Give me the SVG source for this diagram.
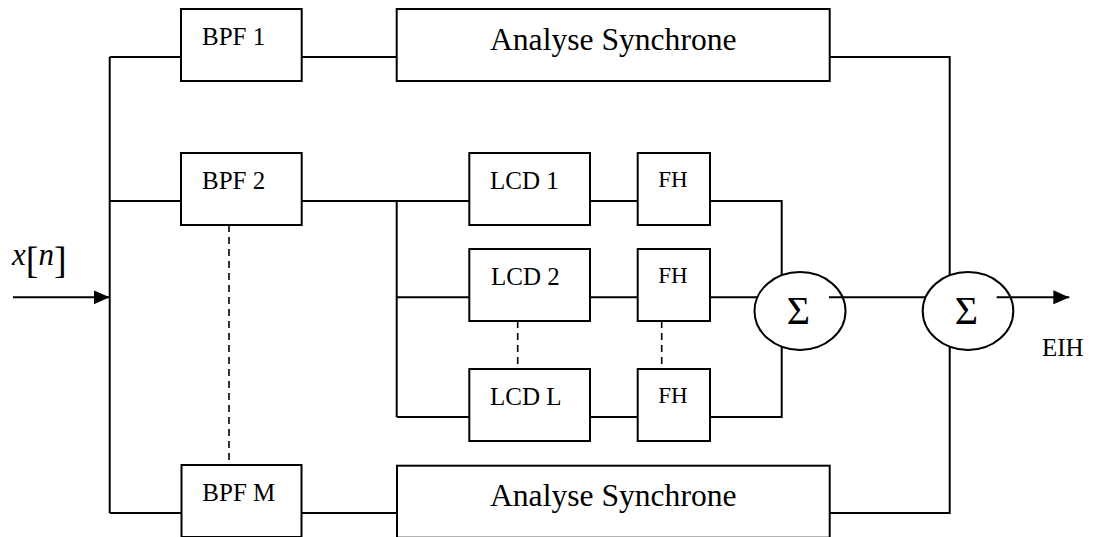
<svg xmlns="http://www.w3.org/2000/svg" width="1093" height="537" viewBox="0 0 1093 537">
<style>
.box{fill:#fff;stroke:#000;stroke-width:2}
.ell{fill:#fff;stroke:#000;stroke-width:2}
.ln{fill:none;stroke:#000;stroke-width:2}
.dash{fill:none;stroke:#000;stroke-width:1.6;stroke-dasharray:7,5}
.t{font-family:"Liberation Serif","Times New Roman",serif;fill:#000}
</style>
<defs>
<marker id="arr" markerWidth="16" markerHeight="14" refX="16" refY="7" orient="auto" markerUnits="userSpaceOnUse">
<path d="M0,0 L16,7 L0,14 Z" fill="#000"/>
</marker>
</defs>
<rect width="1093" height="537" fill="#fff"/>
<g id="sum1"><ellipse class="ell" cx="800" cy="311" rx="45.5" ry="39"/><text class="t" x="798.5" y="324" font-size="40" text-anchor="middle">Σ</text></g>
<g id="sum2"><ellipse class="ell" cx="968" cy="311" rx="45.3" ry="39"/><text class="t" x="966.5" y="324" font-size="40" text-anchor="middle">Σ</text></g>
<g id="connectors">
<path class="ln" d="M13,297.3 H109.7" marker-end="url(#arr)"/>
<path class="ln" d="M109.7,57 V513"/>
<path class="ln" d="M109.7,57 H181"/>
<path class="ln" d="M109.7,201 H181"/>
<path class="ln" d="M109.7,513 H181"/>
<path class="ln" d="M301.7,57 H396.7"/>
<path class="ln" d="M301.7,513 H397"/>
<path class="ln" d="M301.7,201 H469.3"/>
<path class="ln" d="M396.7,201 V417"/>
<path class="ln" d="M396.7,297.3 H469.3"/>
<path class="ln" d="M396.7,417 H469.3"/>
<path class="ln" d="M590,201 H637.7"/>
<path class="ln" d="M590,297.3 H637.7"/>
<path class="ln" d="M590,417 H637.7"/>
<path class="ln" d="M710,201 H781.7 V275.3"/>
<path class="ln" d="M710,297.3 H757.5"/>
<path class="ln" d="M710,417 H781.7 V346.7"/>
<path class="ln" d="M829,297.3 H925.7"/>
<path class="ln" d="M829.7,57 H949.7 V275.3"/>
<path class="ln" d="M829.7,513 H949.7 V346.7"/>
<path class="ln" d="M996.7,297.3 H1069.3" marker-end="url(#arr)"/>
<path class="dash" d="M229,225 V465"/>
<path class="dash" d="M517.7,321 V369"/>
<path class="dash" d="M661.7,321 V369"/>
</g>
<g id="bpf1"><rect class="box" x="181" y="9" width="120.7" height="72"/><text class="t" x="202" y="45" font-size="25">BPF 1</text></g>
<g id="bpf2"><rect class="box" x="181" y="153" width="120.7" height="72"/><text class="t" x="202" y="189" font-size="25">BPF 2</text></g>
<g id="bpfm"><rect class="box" x="181.5" y="465" width="120" height="72"/><text class="t" x="202.3" y="501" font-size="25">BPF M</text></g>
<g id="as1"><rect class="box" x="396.7" y="9" width="433" height="72"/><text class="t" x="490" y="50" font-size="31.6">Analyse Synchrone</text></g>
<g id="as2"><rect class="box" x="397" y="465.7" width="432.7" height="72"/><text class="t" x="490" y="506" font-size="31.6">Analyse Synchrone</text></g>
<g id="lcd1"><rect class="box" x="469.3" y="153" width="120.7" height="72"/><text class="t" x="490" y="189" font-size="25">LCD 1</text></g>
<g id="lcd2"><rect class="box" x="469.3" y="249" width="120.7" height="72"/><text class="t" x="491" y="285" font-size="25">LCD 2</text></g>
<g id="lcdl"><rect class="box" x="469.3" y="369" width="120.7" height="72"/><text class="t" x="490" y="405" font-size="25">LCD L</text></g>
<g id="fh1"><rect class="box" x="637.7" y="153" width="72.3" height="72"/><text class="t" x="658.3" y="186.7" font-size="23">FH</text></g>
<g id="fh2"><rect class="box" x="637.7" y="249" width="72.3" height="72"/><text class="t" x="658.3" y="282.7" font-size="23">FH</text></g>
<g id="fhl"><rect class="box" x="637.7" y="369" width="72.3" height="72"/><text class="t" x="658.3" y="402.7" font-size="23">FH</text></g>
<g id="input-label">
<text class="t" x="12" y="265" font-size="31"><tspan font-style="italic">x</tspan><tspan font-size="38" dy="8">[</tspan><tspan font-style="italic" dy="-8">n</tspan><tspan font-size="38" dy="8">]</tspan></text>
</g>
<g id="output-label"><text class="t" x="1042" y="356" font-size="25">EIH</text></g>
</svg>
